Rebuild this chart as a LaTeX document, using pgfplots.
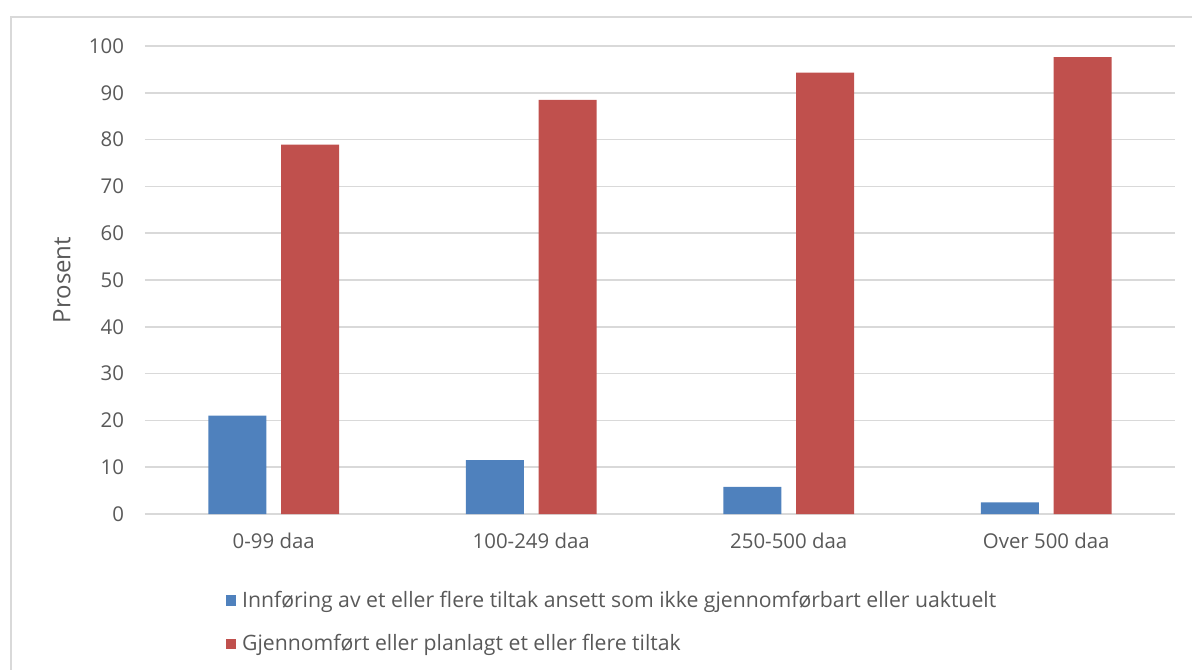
\documentclass[border=0pt]{standalone}
\usepackage{fontspec}
\setmainfont{Open Sans}
\usepackage{pgfplots}
\pgfplotsset{compat=1.18}

\definecolor{serblue}{HTML}{4F81BD}
\definecolor{serred}{HTML}{C0504D}
\definecolor{gridgray}{HTML}{D9D9D9}
\definecolor{txtgray}{HTML}{595959}

\begin{document}
\begin{tikzpicture}
% fixed page size: 1px = 0.5pt, axis origin at pixel (145,514)
\useasboundingbox (-72.5pt,-77.5pt) rectangle (523.5pt,257pt);
% chart area frame (only left and top edges visible)
\draw[gridgray, line width=0.75pt] (-67pt,-80pt) -- (-67pt,248.5pt) -- (530pt,248.5pt);

\begin{axis}[
    scale only axis,
    width=515pt, height=234pt,
    ybar,
    bar width=0.225,
    xmin=-0.5, xmax=3.5,
    ymin=0, ymax=100,
    xtick=data,
    xticklabels={0-99 daa, 100-249 daa, 250-500 daa, Over 500 daa},
    ytick={0,10,...,100},
    major tick length=0pt,
    axis line style={draw=none},
    ymajorgrids,
    grid style={gridgray, line width=0.75pt},
    font=\fontsize{10pt}{12pt}\selectfont,
    tick label style={txtgray, font=\fontsize{10.2pt}{12pt}\selectfont},
    /pgf/number format/assume math mode=true,
    yticklabel style={xshift=-7pt},
    xticklabel style={yshift=-6pt},
    ylabel={Prosent},
    ylabel style={txtgray, font=\fontsize{12pt}{14pt}\selectfont,
        at={(axis description cs:-0.0806,0.5)}, anchor=center},
    legend cell align=left,
    legend style={
        draw=none, fill=none,
        at={(axis description cs:0.078,-0.155)}, anchor=north west,
        font=\fontsize{10.6pt}{12.5pt}\selectfont, text=txtgray,
        row sep=8pt, inner sep=0pt,
        /tikz/every odd column/.append style={column sep=1pt}
    },
    legend image code/.code={
        \fill[#1] (0pt,-2.6pt) rectangle (5.2pt,2.6pt);
    },
]

\addplot[fill=serblue, draw=none, bar shift=-0.1415] coordinates {
    (0, 21.0) (1, 11.5) (2, 5.8) (3, 2.5)
};
\addplot[fill=serred, draw=none, bar shift=0.1415] coordinates {
    (0, 78.9) (1, 88.5) (2, 94.3) (3, 97.6)
};

\legend{Innføring av et eller flere tiltak ansett som ikke gjennomførbart eller uaktuelt,
        Gjennomført eller planlagt et eller flere tiltak}
\end{axis}
\end{tikzpicture}
\end{document}
